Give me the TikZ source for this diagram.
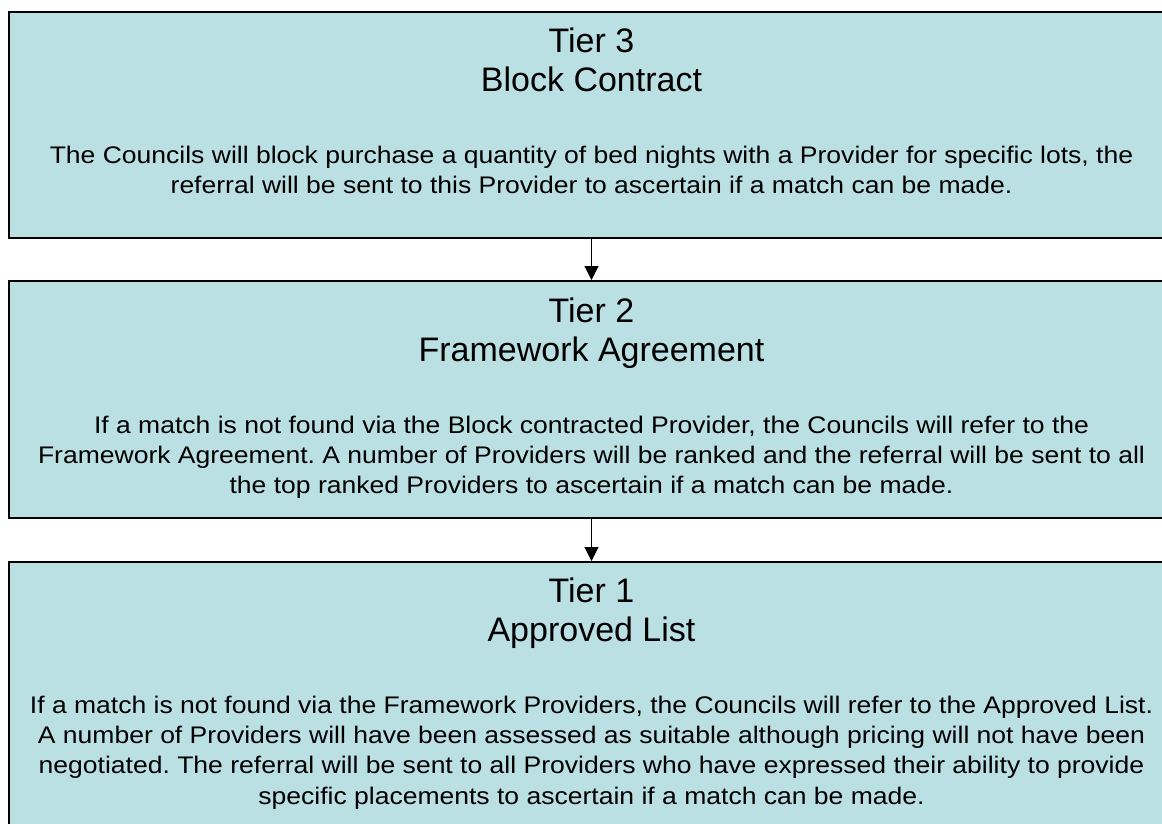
\documentclass[tikz,border=0pt]{standalone}
\usepackage{fontspec}
\setmainfont{Liberation Sans}
\newfontfamily\bodyfont[FakeStretch=1.105]{Liberation Sans}
\usetikzlibrary{arrows.meta}
\definecolor{tierfill}{RGB}{187,224,227}
\tikzset{
  tierbox/.style={draw=black, line width=2pt, fill=tierfill, rectangle,
    inner sep=0pt, minimum width=1165pt},
  tiertitle/.style={anchor=north, inner sep=0pt, align=center,
    font=\fontsize{34}{39.5}\selectfont},
  tierbody/.style={anchor=north, inner sep=0pt, align=center,
    font=\bodyfont\fontsize{24}{30.3}\selectfont},
  flow/.style={draw=black, line width=1.1pt,
    -{Triangle[width=14pt,length=14pt]}}
}
\newcommand{\firsttitle}{\rule{0pt}{30pt}}
\newcommand{\firstbody}{\rule{0pt}{20pt}}
\frenchspacing
\begin{document}
\begin{tikzpicture}[x=1pt,y=-1pt]
\useasboundingbox (0,0) rectangle (1162,823);
\fill[white] (0,0) rectangle (1162,823);

% the three tiers
\node[tierbox, minimum height=226pt] (t3) at (591.5,125) {};
\node[tierbox, minimum height=237pt] (t2) at (591.5,399.5) {};
\node[tierbox, minimum height=320pt] (t1) at (591.5,722) {};

% tier 3
\node[tiertitle] (t3title) at (591.5,22) {\firsttitle Tier 3\\Block Contract};
\node[tierbody] (t3body) at (591.5,143) {\firstbody The Councils will block purchase a quantity of bed nights with a Provider for specific lots, the\\referral will be sent to this Provider to ascertain if a match can be made.};

% tier 2
\node[tiertitle] (t2title) at (591.5,292) {\firsttitle Tier 2\\Framework Agreement};
\node[tierbody] (t2body) at (591.5,413) {\firstbody If a match is not found via the Block contracted Provider, the Councils will refer to the\\Framework Agreement. A number of Providers will be ranked and the referral will be sent to all\\the top ranked Providers to ascertain if a match can be made.};

% tier 1
\node[tiertitle] (t1title) at (591.5,572) {\firsttitle Tier 1\\Approved List};
\node[tierbody] (t1body) at (591.5,693) {\firstbody If a match is not found via the Framework Providers, the Councils will refer to the Approved List.\\A number of Providers will have been assessed as suitable although pricing will not have been\\negotiated. The referral will be sent to all Providers who have expressed their ability to provide\\specific placements to ascertain if a match can be made.};

% escalation from one tier to the next
\draw[flow] (t3.south) -- (t2.north);
\draw[flow] (t2.south) -- (t1.north);
\end{tikzpicture}
\end{document}
